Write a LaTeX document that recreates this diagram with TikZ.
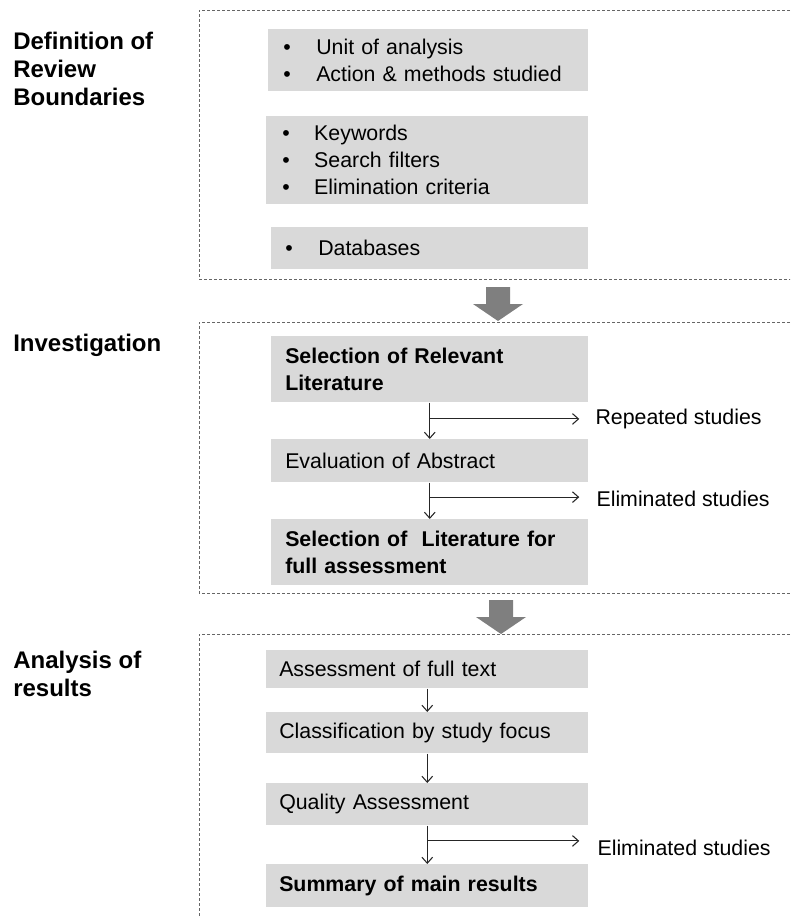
\documentclass[tikz,border=0pt]{standalone}
\usepackage{fontspec}
\setmainfont{Liberation Sans}
\usetikzlibrary{positioning,calc,arrows.meta}

\definecolor{boxgray}{HTML}{D9D9D9}
\definecolor{arrowgray}{HTML}{7F7F7F}
\definecolor{framegray}{HTML}{666666}

\begin{document}
\begin{tikzpicture}[
    x=0.75pt, y=-0.75pt,
    stage/.style={fill=boxgray, anchor=north west, align=left, inner xsep=10.5pt, inner ysep=0pt, font=\fontsize{16}{20.25}\selectfont},
    title/.style={anchor=north west, align=left, inner sep=0pt, font=\fontsize{18}{21}\selectfont\bfseries},
    side/.style={inner sep=0pt, font=\fontsize{16}{20.25}\selectfont},
    frame/.style={draw=framegray, line width=0.75pt, dash pattern=on 2.25pt off 1.5pt},
    flow/.style={draw=black!85, line width=0.8pt, -{Straight Barb[length=4.5pt, width=8pt]}},
    bigdown/.pic={\fill[arrowgray] (-12,0) -- (12,0) -- (12,17) -- (25,17) -- (0,34) -- (-25,17) -- (-12,17) -- cycle;}
]
\useasboundingbox (0,0) rectangle (790,918);
\clip (0,0) rectangle (790,918);

% Stage frames
\draw[frame] (800,10) -- (199,10) -- (199,279) -- (800,279);
\draw[frame] (800,322) -- (199,322) -- (199,593) -- (800,593);
\draw[frame] (800,634) -- (199,634) -- (199,925);

% Stage titles
\node[title] (defn) at (13,32) {Definition of\\Review\\Boundaries};
\node[title] (invest) at (13,334) {Investigation};
\node[title] (analysis) at (13,651) {Analysis of\\results};

% Boundaries
\node[stage, inner xsep=11.25pt, text width=217.5pt, minimum height=46.5pt] (units) at (268,29)
    {\makebox[24.75pt][l]{\textbullet}Unit of analysis\\
     \makebox[24.75pt][l]{\textbullet}Action \& methods studied};
\node[stage, inner xsep=12pt, text width=217.5pt, minimum height=66pt] (keys) at (266,116)
    {\makebox[24pt][l]{\textbullet}Keywords\\
     \makebox[24pt][l]{\textbullet}Search filters\\
     \makebox[24pt][l]{\textbullet}Elimination criteria};
\node[stage, text width=216.75pt, minimum height=31.5pt] (dbs) at (271,227)
    {\makebox[24.75pt][l]{\textbullet}Databases};

% Investigation
\node[stage, text width=216.75pt, minimum height=49.5pt] (selrel) at (271,336)
    {\textbf{Selection of Relevant}\\\textbf{Literature}};
\node[stage, text width=216.75pt, minimum height=32.25pt] (evalabs) at (271,439)
    {Evaluation of Abstract};
\node[stage, text width=216.75pt, minimum height=49.5pt] (selfull) at (271,519)
    {\textbf{Selection of\ \ Literature for}\\\textbf{full assessment}};

% Analysis
\node[stage, inner xsep=9.75pt, text width=222pt, minimum height=28.5pt] (fulltext) at (266,650)
    {Assessment of full text};
\node[stage, inner xsep=9.75pt, text width=222pt, minimum height=30.75pt] (classif) at (266,712)
    {Classification by study focus};
\node[stage, inner xsep=9.75pt, text width=222pt, minimum height=31.5pt] (quality) at (266,783)
    {Quality Assessment};
\node[stage, inner xsep=9.75pt, text width=222pt, minimum height=32.25pt] (summary) at (266,864)
    {\textbf{Summary of main results}};

% Big arrows between stages
\pic at (498,287) {bigdown};
\pic at (501,600) {bigdown};

% Flow arrows
\draw[flow] (selrel.south) -- (evalabs.north);
\draw[flow] (evalabs.south) -- (selfull.north);
\draw[flow] (fulltext.south) -- (classif.north);
\draw[flow] (classif.south) -- (quality.north);
\draw[flow] (quality.south) -- (summary.north);

% Side branches
\coordinate (fork1) at ($(selrel.south)!0.45!(evalabs.north)$);
\draw[flow] (fork1) -- ++(149.5,0) coordinate (tip1);
\node[side, right=12pt of tip1] (repeated) {Repeated studies};

\coordinate (fork2) at ($(evalabs.south)!0.4!(selfull.north)$);
\draw[flow] (fork2) -- ++(149.5,0) coordinate (tip2);
\node[side, right=12.75pt of tip2, yshift=-1pt] (elim1) {Eliminated studies};

\coordinate (fork3) at ($(quality.south)!0.4!(summary.north)$);
\draw[flow] (fork3) -- ++(152,0) coordinate (tip3);
\node[side, right=13.5pt of tip3, yshift=-5.25pt] (elim2) {Eliminated studies};

\end{tikzpicture}
\end{document}
